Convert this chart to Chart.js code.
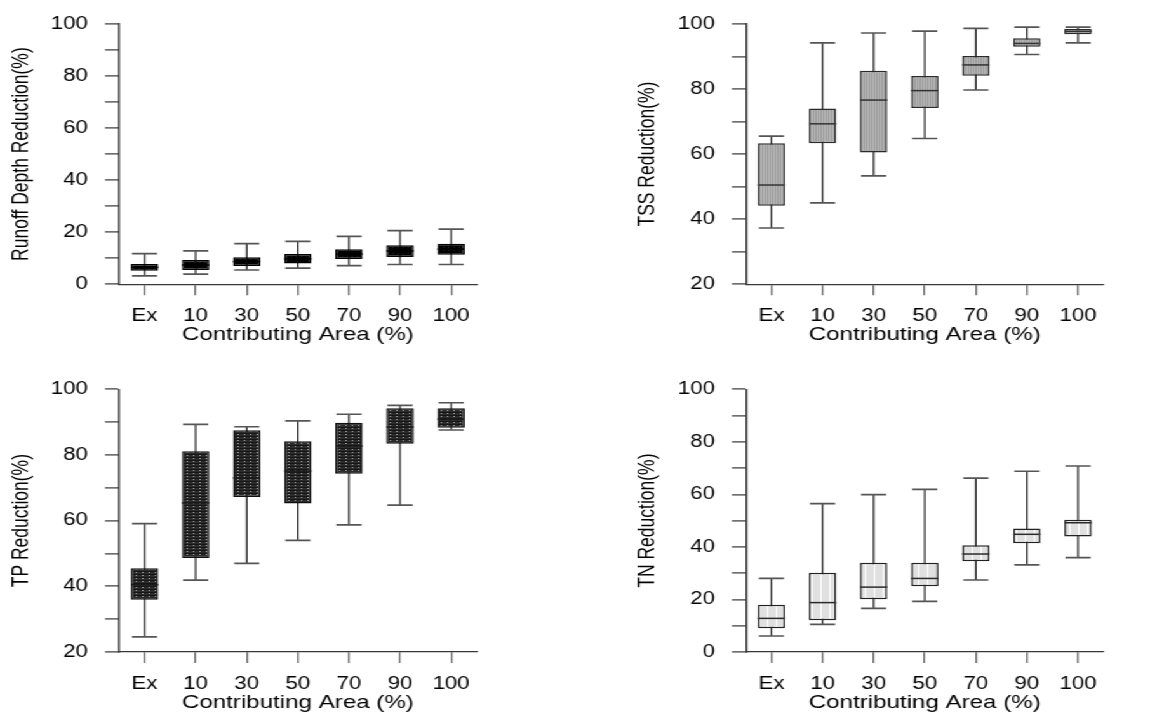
<!DOCTYPE html>
<html><head><meta charset="utf-8">
<script src="https://cdn.jsdelivr.net/npm/chart.js@4.4.1/dist/chart.umd.min.js"></script>
<style>
html,body{margin:0;padding:0;width:1154px;height:713px;overflow:hidden;background:#fff;}
#stage{position:absolute;left:0;top:0;height:723px;transform-origin:0 0;}
.panel{position:absolute;}
canvas{display:block;}
</style></head><body><div id="stage"></div>
<script>
// ---------------- data ----------------
const categories = ['Ex', '10', '30', '50', '70', '90', '100'];

const runoffMin    = [3.2, 3.9, 5.5, 6.2, 7.2, 7.6, 7.6];
const runoffQ1     = [5.2, 5.5, 7.0, 8.0, 9.7, 10.5, 11.3];
const runoffMedian = [6.5, 7.4, 8.7, 9.8, 11.6, 12.8, 13.5];
const runoffQ3     = [7.8, 9.3, 10.4, 11.6, 13.5, 15.0, 15.6];
const runoffMax    = [11.8, 12.8, 15.6, 16.5, 18.4, 20.6, 21.2];

const tssMin    = [37.3, 45.0, 53.3, 64.8, 79.7, 90.6, 94.2];
const tssQ1     = [44.1, 63.3, 60.5, 74.2, 84.1, 93.0, 96.8];
const tssMedian = [50.5, 69.3, 76.6, 79.5, 87.4, 94.0, 97.7];
const tssQ3     = [63.3, 74.0, 85.6, 84.0, 90.1, 95.6, 98.4];
const tssMax    = [65.5, 94.2, 97.2, 97.8, 98.6, 99.0, 99.0];

const tpMin    = [24.6, 41.9, 47.0, 54.0, 58.7, 64.7, 87.6];
const tpQ1     = [35.9, 48.6, 67.2, 65.2, 74.3, 83.4, 88.3];
const tpMedian = [40.5, 65.4, 73.0, 75.1, 82.7, 88.5, 90.9];
const tpQ3     = [45.5, 81.1, 87.5, 84.2, 89.8, 94.2, 94.2];
const tpMax    = [59.1, 89.3, 88.6, 90.4, 92.4, 95.1, 95.9];

const tnMin    = [6.1, 10.5, 16.6, 19.3, 27.4, 33.2, 35.9];
const tnQ1     = [9.0, 12.1, 20.1, 25.0, 34.5, 41.4, 44.0];
const tnMedian = [12.8, 18.8, 24.7, 28.0, 37.3, 44.8, 49.2];
const tnQ3     = [18.0, 30.2, 34.0, 34.0, 40.6, 47.0, 50.3];
const tnMax    = [28.0, 56.5, 59.9, 61.9, 66.2, 68.8, 70.8];

const yTickStep = 10;
const yLabelStep = 20;
const xTitle = 'Contributing Area (%)';

// ---------------- styling / layout ----------------
const S = 1.27; // horizontal stretch of the whole figure
const stage = document.getElementById('stage');
stage.style.width = (1160 / S) + 'px';
stage.style.transform = 'scaleX(' + S + ')';

const FONT = "'Liberation Sans', Arial, Helvetica, sans-serif";
const TICK_SIZE = 17.5, XT_SIZE = 19, YT_SIZE = 17.5;

function pattern(w, h, draw) {
  const c = document.createElement('canvas');
  c.width = w; c.height = h;
  const g = c.getContext('2d');
  draw(g);
  return g.createPattern(c, 'repeat');
}
const fillBlack = pattern(4, 3, g => { g.fillStyle = '#030303'; g.fillRect(0,0,4,3); g.fillStyle = '#1a1a1a'; g.fillRect(1,1,1,1); });
const fillStripe = pattern(2, 1, g => { g.fillStyle = '#9a9a9a'; g.fillRect(0,0,1,1); g.fillStyle = '#b8b8b8'; g.fillRect(1,0,1,1); });
const fillDots = pattern(5, 3, g => { g.fillStyle = '#2c2c2c'; g.fillRect(0,0,5,3); g.fillStyle = '#161616'; g.fillRect(0,2,5,1); g.fillStyle = '#a8a8a8'; g.fillRect(2,0,1,1); });
const fillLight = pattern(7, 1, g => { g.fillStyle = '#e0e0e0'; g.fillRect(0,0,7,1); g.fillStyle = '#ffffff'; g.fillRect(3,0,1,1); });

function boxChart(p) {
  const div = document.createElement('div');
  div.className = 'panel';
  const cw = Math.round(p.W / S), ch = p.H;
  div.style.left = (p.L / S) + 'px';
  div.style.top = p.T + 'px';
  const cv = document.createElement('canvas');
  cv.width = cw; cv.height = ch;
  div.appendChild(cv);
  stage.appendChild(div);

  const areaL = (p.axisL - p.L) / S;
  const areaR = (p.axisR - p.L) / S;
  const areaT = p.axisT - p.T;
  const areaB = p.axisB - p.T;
  const tickLh = TICK_SIZE * 1.2, xtLh = XT_SIZE * 1.2, ytLh = YT_SIZE * 1.2;

  const whiskers = {
    id: 'whiskers_' + p.id,
    beforeDatasetsDraw(chart) {
      const ctx = chart.ctx, y = chart.scales.y;
      const meta = chart.getDatasetMeta(0);
      ctx.save();
      meta.data.forEach((bar, i) => {
        const cx = bar.x, hw = bar.width * 0.46;
        const y0 = y.getPixelForValue(p.min[i]), y1 = y.getPixelForValue(p.max[i]);
        ctx.strokeStyle = '#0a0a0a'; ctx.lineWidth = 1.1;
        ctx.beginPath(); ctx.moveTo(cx, y0); ctx.lineTo(cx, y1); ctx.stroke();
        ctx.strokeStyle = '#555'; ctx.lineWidth = 1.7;
        ctx.beginPath();
        ctx.moveTo(cx - hw, y0); ctx.lineTo(cx + hw, y0);
        ctx.moveTo(cx - hw, y1); ctx.lineTo(cx + hw, y1);
        ctx.stroke();
      });
      ctx.restore();
    },
    afterDatasetsDraw(chart) {
      const ctx = chart.ctx, y = chart.scales.y;
      const meta = chart.getDatasetMeta(0);
      ctx.save();
      ctx.strokeStyle = p.medianColor; ctx.lineWidth = 1.5;
      meta.data.forEach((bar, i) => {
        const ym = y.getPixelForValue(p.median[i]);
        ctx.beginPath(); ctx.moveTo(bar.x - bar.width / 2, ym); ctx.lineTo(bar.x + bar.width / 2, ym); ctx.stroke();
      });
      ctx.restore();
    }
  };

  new Chart(cv, {
    type: 'bar',
    data: {
      labels: categories,
      datasets: [{
        data: p.q1.map((v, i) => [v, p.q3[i]]),
        backgroundColor: p.fill,
        borderColor: p.edge,
        borderWidth: 1.5,
        borderSkipped: false,
        barPercentage: 0.535,
        categoryPercentage: 1
      }]
    },
    options: {
      responsive: false,
      animation: false,
      devicePixelRatio: 1,
      events: [],
      layout: { padding: { left: 0, top: areaT, right: cw - areaR, bottom: 0 } },
      plugins: { legend: { display: false }, tooltip: { enabled: false } },
      scales: {
        x: {
          type: 'category',
          offset: true,
          grid: { display: true, drawOnChartArea: false, drawTicks: true, tickLength: 11, offset: false, color: '#6a6a6a', lineWidth: 1.3 },
          border: { display: true, color: '#383838', width: 1.3 },
          ticks: { color: '#000', font: { family: FONT, size: TICK_SIZE }, padding: p.xTickPad, maxRotation: 0, autoSkip: false },
          title: { display: true, text: xTitle, color: '#000', font: { family: FONT, size: XT_SIZE }, padding: { top: 0, bottom: (p.T + p.H - p.xTitleY) - xtLh / 2 } },
          afterFit: s => { s.height = ch - areaB; }
        },
        y: {
          min: p.yMin, max: 100,
          grid: { display: true, drawOnChartArea: false, drawTicks: true, tickLength: 11, color: '#707070', lineWidth: 1.7 },
          border: { display: true, color: '#383838', width: 1.4 },
          ticks: {
            stepSize: yTickStep, autoSkip: false, padding: 13.4,
            color: '#000', font: { family: FONT, size: TICK_SIZE },
            callback: v => (v % yLabelStep === 0 ? String(v) : '')
          },
          title: { display: true, text: p.yTitle, color: '#000', font: { family: FONT, size: YT_SIZE }, padding: { top: (p.yTitleX - p.L) / S - ytLh / 2, bottom: 0 } },
          afterFit: s => { s.width = areaL; }
        }
      }
    },
    plugins: [whiskers]
  });
}

const LX = 119, RX = 746.3, SP = 51.1;

boxChart({ id: 'runoff', L: 0, T: 0, W: 577, H: 356,
  axisL: LX, axisR: LX + 7 * SP, axisT: 22, axisB: 284.3, yMin: 0,
  yTitle: 'Runoff Depth Reduction(%)', yTitleX: LX - 97.5, xTitleY: 335, xTickPad: 10.2,
  min: runoffMin, q1: runoffQ1, median: runoffMedian, q3: runoffQ3, max: runoffMax,
  fill: fillBlack, edge: '#000', medianColor: '#000' });

boxChart({ id: 'tss', L: 577, T: 0, W: 577, H: 356,
  axisL: RX, axisR: RX + 7 * SP, axisT: 22, axisB: 284.3, yMin: 20,
  yTitle: 'TSS Reduction(%)', yTitleX: RX - 97.5, xTitleY: 335, xTickPad: 10.2,
  min: tssMin, q1: tssQ1, median: tssMedian, q3: tssQ3, max: tssMax,
  fill: fillStripe, edge: '#2a2a2a', medianColor: '#333' });

boxChart({ id: 'tp', L: 0, T: 356, W: 577, H: 367,
  axisL: LX, axisR: LX + 7 * SP, axisT: 389.3, axisB: 652, yMin: 20,
  yTitle: 'TP Reduction(%)', yTitleX: LX - 97.5, xTitleY: 702.7, xTickPad: 10.2,
  min: tpMin, q1: tpQ1, median: tpMedian, q3: tpQ3, max: tpMax,
  fill: fillDots, edge: '#111', medianColor: '#1a1a1a' });

boxChart({ id: 'tn', L: 577, T: 356, W: 577, H: 367,
  axisL: RX, axisR: RX + 7 * SP, axisT: 389.3, axisB: 652, yMin: 0,
  yTitle: 'TN Reduction(%)', yTitleX: RX - 97.5, xTitleY: 702.7, xTickPad: 10.2,
  min: tnMin, q1: tnQ1, median: tnMedian, q3: tnQ3, max: tnMax,
  fill: fillLight, edge: '#222', medianColor: '#2a2a2a' });
</script>
</body></html>
